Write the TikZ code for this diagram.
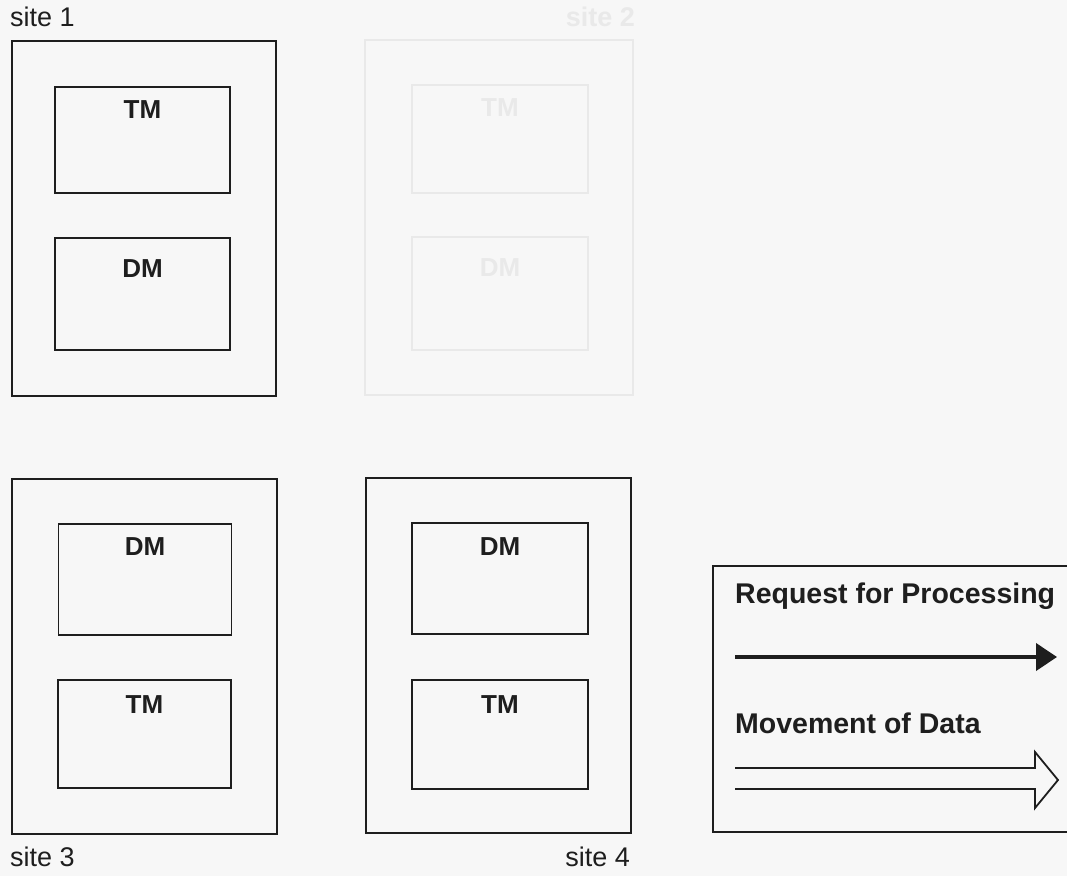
\documentclass[tikz,border=0pt]{standalone}
\usepackage{fontspec}
\setmainfont{Liberation Sans}
\usetikzlibrary{arrows.meta}
\definecolor{ink}{HTML}{1E1E1E}
\definecolor{paper}{HTML}{F7F7F7}
\definecolor{ghost}{HTML}{E9E9E9}
\begin{document}
\begin{tikzpicture}[x=1pt,y=-1pt,
  sitebox/.style={draw=ink,line width=1.8pt,inner sep=0pt,outer sep=0pt},
  modbox/.style={draw=ink,line width=1.8pt,inner sep=0pt,outer sep=0pt},
  modtext/.style={font=\fontsize{26}{30}\selectfont\bfseries,text=ink,inner sep=0pt,anchor=north},
  sitetext/.style={font=\fontsize{27}{32}\selectfont,text=ink,inner sep=0pt,anchor=base west},
  legtext/.style={font=\fontsize{28.5}{34}\selectfont\bfseries,text=ink,inner sep=0pt,anchor=base west},
  ghostbox/.style={draw=ghost,line width=1.8pt,inner sep=0pt,outer sep=0pt},
]
% page
\fill[paper] (0,0) rectangle (1067,876);
\useasboundingbox (0,0) rectangle (1067,876);

% ---- site 1 ----
\node[sitebox, minimum width=264pt, minimum height=355pt] (s1) at (144,218.5) {};
\node[modbox, minimum width=175pt, minimum height=106pt] (tm1) at (142.5,140) {};
\node[modbox, minimum width=175pt, minimum height=112pt] (dm1) at (142.5,294) {};
\node[modtext] (tm1t) at ([yshift=-13pt]tm1.north) {TM};
\node[modtext] (dm1t) at ([yshift=-21pt]dm1.north) {DM};
\node[sitetext] (s1l) at (10,26) {site 1};

% ---- site 2 (faint) ----
\node[ghostbox, minimum width=268pt, minimum height=355pt] (s2) at (499,217.5) {};
\node[ghostbox, minimum width=176pt, minimum height=108pt] (tm2) at (500,139) {};
\node[ghostbox, minimum width=176pt, minimum height=113pt] (dm2) at (500,293.5) {};
\node[modtext, text=ghost] (tm2t) at ([yshift=-13pt]tm2.north) {TM};
\node[modtext, text=ghost] (dm2t) at ([yshift=-21pt]dm2.north) {DM};
\node[sitetext, anchor=base east, text=ghost, font=\fontsize{27}{32}\selectfont\bfseries] (s2l) at (635,26) {site 2};

% ---- site 3 ----
\node[sitebox, minimum width=265pt, minimum height=355pt] (s3) at (144.5,656.5) {};
\node[modbox, minimum width=173pt, minimum height=111pt] (dm3) at (145,579.5) {};
\node[modbox, minimum width=173pt, minimum height=108pt] (tm3) at (144.5,734) {};
\node[modtext] (dm3t) at ([yshift=-13pt]dm3.north) {DM};
\node[modtext] (tm3t) at ([yshift=-15pt]tm3.north) {TM};
\node[sitetext] (s3l) at (10,866) {site 3};

% ---- site 4 ----
\node[sitebox, minimum width=265pt, minimum height=355pt] (s4) at (498.5,655.5) {};
\node[modbox, minimum width=176pt, minimum height=111pt] (dm4) at (500,578.5) {};
\node[modbox, minimum width=176pt, minimum height=109pt] (tm4) at (500,734.5) {};
\node[modtext] (dm4t) at ([yshift=-14pt]dm4.north) {DM};
\node[modtext] (tm4t) at ([yshift=-15pt]tm4.north) {TM};
\node[sitetext, anchor=base east] (s4l) at (630,866) {site 4};

% ---- legend ----
\node[sitebox, minimum width=372pt, minimum height=266pt, anchor=north west] (leg) at (713,566) {};
\node[legtext] (req) at (735,603) {Request for Processing};
\node[legtext] (mov) at (735,733) {Movement of Data};

% request arrow: thick line, solid head
\coordinate (reqA) at (735,657);
\coordinate (reqB) at (1057,657);
\draw[ink, line width=4pt, -{Triangle[length=21pt,width=27pt]}] (reqA) -- (reqB);

% data arrow: double line, open head
\coordinate (movA1) at (735,768);
\coordinate (movA2) at (735,789);
\coordinate (movH1) at (1035,768);
\coordinate (movH2) at (1035,752);
\coordinate (movTip) at (1058,780);
\coordinate (movH3) at (1035,808);
\coordinate (movH4) at (1035,789);
\draw[ink, line width=1.8pt, line join=miter]
  (movA1) -- (movH1) -- (movH2) -- (movTip) -- (movH3) -- (movH4) -- (movA2);
\end{tikzpicture}
\end{document}
